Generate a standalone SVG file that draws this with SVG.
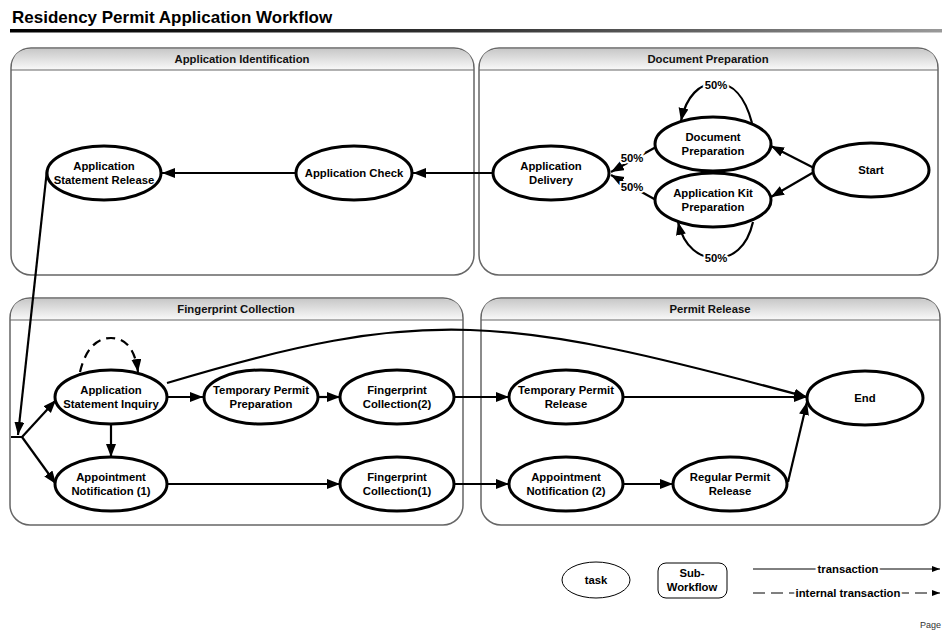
<svg xmlns="http://www.w3.org/2000/svg" width="942" height="630" viewBox="0 0 942 630">
<defs>
<linearGradient id="bar" x1="0" y1="0" x2="1" y2="0"><stop offset="0" stop-color="#000"/><stop offset="0.5" stop-color="#333"/><stop offset="1" stop-color="#999"/></linearGradient>
<linearGradient id="hdr" x1="0" y1="0" x2="0" y2="1"><stop offset="0" stop-color="#c8c8c8"/><stop offset="1" stop-color="#fafafa"/></linearGradient>
<marker id="ah" markerUnits="userSpaceOnUse" markerWidth="14" markerHeight="12" refX="13" refY="5" orient="auto"><path d="M0,0 L13,5 L0,10 Z" fill="#000"/></marker>
<marker id="ahs" markerUnits="userSpaceOnUse" markerWidth="10" markerHeight="8" refX="8" refY="3" orient="auto"><path d="M0,0 L8,3 L0,6 Z" fill="#000"/></marker>
<style>
text{font-family:"Liberation Sans",Arial,sans-serif;}
.t{font-size:11.3px;font-weight:bold;text-anchor:middle;fill:#000;}
.h{font-size:11.3px;font-weight:bold;text-anchor:middle;fill:#111;}
.lbl{font-size:11.3px;font-weight:bold;text-anchor:middle;fill:#000;stroke:#fff;stroke-width:4px;paint-order:stroke;}
.panel{fill:#fff;stroke:#666;stroke-width:1.5;}
.node ellipse{fill:#fff;stroke:#000;stroke-width:3;}
.c{fill:none;stroke:#000;stroke-width:2.2;marker-end:url(#ah);}
.cn{fill:none;stroke:#000;stroke-width:2.2;}
.d{fill:none;stroke:#000;stroke-width:2.2;stroke-dasharray:9,6;marker-end:url(#ah);}
</style>
</defs>
<rect width="942" height="630" fill="#fff"/>
<text x="12" y="23" style="font-size:17px;font-weight:bold;">Residency Permit Application Workflow</text>
<rect x="10" y="29" width="932" height="3.5" fill="url(#bar)"/>

<g id="panel-app-id">
<rect class="panel" x="11" y="48" width="463" height="227" rx="20"/>
<path d="M12,70 L12,68 Q12,49 31,49 L454,49 Q473,49 473,68 L473,70 Z" fill="url(#hdr)"/>
<line x1="11" y1="70" x2="474" y2="70" stroke="#666" stroke-width="1.2"/>
<text class="h" x="242" y="63">Application Identification</text>
</g>
<g id="panel-doc-prep">
<rect class="panel" x="479" y="48" width="459" height="227" rx="20"/>
<path d="M480,70 L480,68 Q480,49 499,49 L918,49 Q937,49 937,68 L937,70 Z" fill="url(#hdr)"/>
<line x1="479" y1="70" x2="938" y2="70" stroke="#666" stroke-width="1.2"/>
<text class="h" x="708" y="63">Document Preparation</text>
</g>
<g id="panel-fingerprint">
<rect class="panel" x="10" y="298" width="453" height="227" rx="20"/>
<path d="M11,320 L11,318 Q11,299 30,299 L443,299 Q462,299 462,318 L462,320 Z" fill="url(#hdr)"/>
<line x1="10" y1="320" x2="463" y2="320" stroke="#666" stroke-width="1.2"/>
<text class="h" x="236" y="313">Fingerprint Collection</text>
</g>
<g id="panel-permit">
<rect class="panel" x="481" y="298" width="459" height="227" rx="20"/>
<path d="M482,320 L482,318 Q482,299 501,299 L920,299 Q939,299 939,318 L939,320 Z" fill="url(#hdr)"/>
<line x1="481" y1="320" x2="940" y2="320" stroke="#666" stroke-width="1.2"/>
<text class="h" x="710" y="313">Permit Release</text>
</g>

<g id="connectors">
<path class="c" d="M814,168 L771,146"/>
<path class="c" d="M814,172 L771,197"/>
<path class="c" d="M656,147 L611,172"/>
<path class="c" d="M656,200 L611,175"/>
<path class="c" d="M752,123 C745,96 732,83 716,83 C700,83 686,96 681,121"/>
<path class="c" d="M753,222 C747,248 732,258 716,258 C700,258 684,248 678,222"/>
<path class="c" d="M493,173 L413,173"/>
<path class="c" d="M296,173 L162,173"/>
<path class="c" d="M47,170 L18,435"/>
<line x1="11" y1="437" x2="23" y2="437" stroke="#000" stroke-width="2"/>
<path class="c" d="M22,437 L56,400"/>
<path class="c" d="M22,437 L56,484"/>
<path class="c" d="M111,424 L111,457"/>
<path class="d" d="M80,372 C86,347 98,338 111,338 C125,338 135,348 138,372"/>
<path class="c" d="M167,383 C426,305 503,315 807,397"/>
<path class="c" d="M167,397 L203,397"/>
<path class="c" d="M318,397 L340,397"/>
<path class="c" d="M453,397 L509,397"/>
<path class="c" d="M624,397 L807,397"/>
<path class="c" d="M167,484 L340,484"/>
<path class="c" d="M453,484 L509,484"/>
<path class="c" d="M624,484 L673,484"/>
<path class="c" d="M788,482 L807,402"/>
<text class="lbl" x="632" y="162">50%</text>
<text class="lbl" x="632" y="191">50%</text>
<text class="lbl" x="716" y="89">50%</text>
<text class="lbl" x="716" y="262">50%</text>
</g>

<g id="n-start" class="node"><ellipse cx="871" cy="170" rx="58" ry="27"/><text class="t" x="871" y="174">Start</text></g>
<g id="n-docprep" class="node"><ellipse cx="713" cy="144" rx="58" ry="27"/><text class="t" x="713" y="141">Document</text><text class="t" x="713" y="154.5">Preparation</text></g>
<g id="n-kitprep" class="node"><ellipse cx="713" cy="200" rx="58" ry="27"/><text class="t" x="713" y="197">Application Kit</text><text class="t" x="713" y="210.5">Preparation</text></g>
<g id="n-delivery" class="node"><ellipse cx="551" cy="173" rx="58" ry="27"/><text class="t" x="551" y="170">Application</text><text class="t" x="551" y="183.5">Delivery</text></g>
<g id="n-check" class="node"><ellipse cx="354" cy="173" rx="58" ry="27"/><text class="t" x="354" y="177">Application Check</text></g>
<g id="n-asr" class="node"><ellipse cx="104" cy="173" rx="57" ry="27"/><text class="t" x="104" y="170">Application</text><text class="t" x="104" y="183.5">Statement Release</text></g>
<g id="n-asi" class="node"><ellipse cx="111" cy="397" rx="56" ry="27"/><text class="t" x="111" y="394">Application</text><text class="t" x="111" y="407.5">Statement Inquiry</text></g>
<g id="n-tpp" class="node"><ellipse cx="261" cy="397" rx="57" ry="27"/><text class="t" x="261" y="394">Temporary Permit</text><text class="t" x="261" y="407.5">Preparation</text></g>
<g id="n-fc2" class="node"><ellipse cx="397" cy="397" rx="57" ry="27"/><text class="t" x="397" y="394">Fingerprint</text><text class="t" x="397" y="407.5">Collection(2)</text></g>
<g id="n-an1" class="node"><ellipse cx="111" cy="484" rx="56" ry="27"/><text class="t" x="111" y="481">Appointment</text><text class="t" x="111" y="494.5">Notification (1)</text></g>
<g id="n-fc1" class="node"><ellipse cx="397" cy="484" rx="57" ry="27"/><text class="t" x="397" y="481">Fingerprint</text><text class="t" x="397" y="494.5">Collection(1)</text></g>
<g id="n-tpr" class="node"><ellipse cx="566" cy="397" rx="57" ry="27"/><text class="t" x="566" y="394">Temporary Permit</text><text class="t" x="566" y="407.5">Release</text></g>
<g id="n-end" class="node"><ellipse cx="865" cy="398" rx="58" ry="27"/><text class="t" x="865" y="402">End</text></g>
<g id="n-an2" class="node"><ellipse cx="566" cy="484" rx="57" ry="27"/><text class="t" x="566" y="481">Appointment</text><text class="t" x="566" y="494.5">Notification (2)</text></g>
<g id="n-rpr" class="node"><ellipse cx="730" cy="484" rx="57" ry="27"/><text class="t" x="730" y="481">Regular Permit</text><text class="t" x="730" y="494.5">Release</text></g>

<g id="legend">
<ellipse cx="596" cy="580" rx="34" ry="18" fill="#fff" stroke="#000" stroke-width="1"/>
<text class="t" x="596" y="584">task</text>
<rect x="658" y="563" width="69" height="35" rx="8" fill="#fff" stroke="#000" stroke-width="1"/>
<text class="t" x="692" y="577">Sub-</text><text class="t" x="692" y="590.5">Workflow</text>
<line x1="753" y1="569" x2="940" y2="569" stroke="#000" stroke-width="1" marker-end="url(#ahs)"/>
<line x1="753" y1="593" x2="940" y2="593" stroke="#000" stroke-width="1" stroke-dasharray="12,6" marker-end="url(#ahs)"/>
<text class="t" x="848" y="573" style="stroke:#fff;stroke-width:4px;paint-order:stroke;">transaction</text>
<text class="t" x="848" y="597" style="stroke:#fff;stroke-width:4px;paint-order:stroke;">internal transaction</text>
<text x="920" y="628" style="font-size:9px;fill:#333;">Page</text>
</g>
</svg>
